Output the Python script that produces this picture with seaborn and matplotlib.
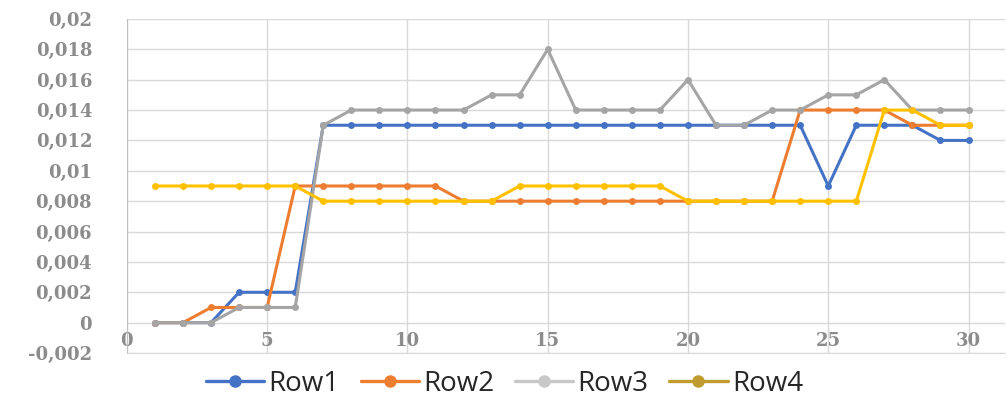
import numpy as np
import pandas as pd
import matplotlib
matplotlib.use("Agg")
import matplotlib.pyplot as plt
from matplotlib.lines import Line2D
from matplotlib.ticker import FuncFormatter, MultipleLocator
import seaborn as sns

# Measurement series, sampled at steps 1..30
steps = list(range(1, 31))
row1 = [0, 0, 0, 0.002, 0.002, 0.002, 0.013, 0.013, 0.013, 0.013,
        0.013, 0.013, 0.013, 0.013, 0.013, 0.013, 0.013, 0.013, 0.013, 0.013,
        0.013, 0.013, 0.013, 0.013, 0.009, 0.013, 0.013, 0.013, 0.012, 0.012]
row2 = [0, 0, 0.001, 0.001, 0.001, 0.009, 0.009, 0.009, 0.009, 0.009,
        0.009, 0.008, 0.008, 0.008, 0.008, 0.008, 0.008, 0.008, 0.008, 0.008,
        0.008, 0.008, 0.008, 0.014, 0.014, 0.014, 0.014, 0.013, 0.013, 0.013]
row3 = [0, 0, 0, 0.001, 0.001, 0.001, 0.013, 0.014, 0.014, 0.014,
        0.014, 0.014, 0.015, 0.015, 0.018, 0.014, 0.014, 0.014, 0.014, 0.016,
        0.013, 0.013, 0.014, 0.014, 0.015, 0.015, 0.016, 0.014, 0.014, 0.014]
row4 = [0.009, 0.009, 0.009, 0.009, 0.009, 0.009, 0.008, 0.008, 0.008, 0.008,
        0.008, 0.008, 0.008, 0.009, 0.009, 0.009, 0.009, 0.009, 0.009, 0.008,
        0.008, 0.008, 0.008, 0.008, 0.008, 0.008, 0.014, 0.014, 0.013, 0.013]
series_names = ["Row1", "Row2", "Row3", "Row4"]
x_ticks = [0, 5, 10, 15, 20, 25, 30]

line_colors = ["#4472C4", "#ED7D31", "#A5A5A5", "#FFC000"]
legend_colors = ["#4472C4", "#ED7D31", "#C8C8C8", "#BF9B30"]

df = pd.DataFrame({
    "step": steps * 4,
    "value": row1 + row2 + row3 + row4,
    "series": sum([[n] * len(steps) for n in series_names], []),
})

sns.set_style("white")
fig = plt.figure(figsize=(10.07, 4.03), dpi=100)
ax = fig.add_axes([0.126, 0.124, 0.872, 0.829])

sns.lineplot(data=df, x="step", y="value", hue="series", hue_order=series_names,
             palette=line_colors, marker="o", markersize=5, markeredgewidth=0,
             linewidth=2.2, ax=ax, legend=False, zorder=3)

ax.set_xlim(0, 31.3)
ax.set_ylim(-0.002, 0.02)
ax.set_xticks(x_ticks)
ax.yaxis.set_major_locator(MultipleLocator(0.002))

def comma_fmt(v, pos):
    v = round(v, 4)
    if abs(v) < 1e-9:
        return "0"
    return f"{v:g}".replace(".", ",")

ax.yaxis.set_major_formatter(FuncFormatter(comma_fmt))
ax.xaxis.set_major_formatter(FuncFormatter(lambda v, p: f"{int(v)}"))

ax.grid(True, color="#D9D9D9", linewidth=1.0)
ax.set_axisbelow(True)
for side in ["top", "right"]:
    ax.spines[side].set_visible(False)
ax.spines["left"].set_color("#BFBFBF")
ax.spines["bottom"].set_color("#D9D9D9")
ax.set_xlabel("")
ax.set_ylabel("")

tick_font = dict(family="DejaVu Serif", weight="bold", size=13)
for lab in ax.get_yticklabels():
    lab.set_fontproperties(tick_font)
for lab in ax.get_xticklabels():
    lab.set_fontproperties(tick_font)
ax.tick_params(axis="y", length=0, pad=25, colors="#8C8C8C")
ax.tick_params(axis="x", length=0, pad=-15, colors="#8C8C8C")

handles = [Line2D([0], [0], color=c, linewidth=2.4, marker="o", markersize=9,
                  markeredgewidth=0) for c in legend_colors]
fig.legend(handles, series_names, loc="center", bbox_to_anchor=(0.501, 0.048),
           ncol=4, frameon=False, handlelength=2.1, handletextpad=0.15,
           columnspacing=0.75, prop=dict(family="Open Sans", size=20))

fig.savefig("out.png", dpi=100)
